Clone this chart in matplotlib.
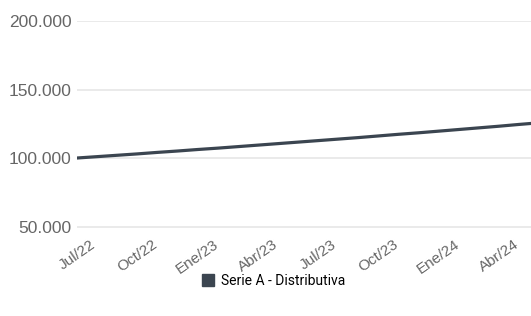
import matplotlib
matplotlib.use("Agg")
import matplotlib.pyplot as plt
import matplotlib.patches as mpatches
from matplotlib.ticker import FuncFormatter

# Data, monthly values (Jul/22 .. Jun/24)
months = ["Jul/22", "Ago/22", "Sep/22", "Oct/22", "Nov/22", "Dic/22",
          "Ene/23", "Feb/23", "Mar/23", "Abr/23", "May/23", "Jun/23",
          "Jul/23", "Ago/23", "Sep/23", "Oct/23", "Nov/23", "Dic/23",
          "Ene/24", "Feb/24", "Mar/24", "Abr/24", "May/24", "Jun/24"]
values = [100000, 101000, 102000, 103000, 104100, 105100,
          106200, 107200, 108300, 109400, 110500, 111600,
          112700, 113800, 114900, 116100, 117300, 118400,
          119600, 120800, 122000, 123200, 124500, 125700]
tick_labels = ["Jul/22", "Oct/22", "Ene/23", "Abr/23", "Jul/23", "Oct/23", "Ene/24", "Abr/24"]
series_name = "Serie A - Distributiva"

line_color = "#3b4550"
grid_color = "#e6e6e6"
label_color = "#666666"

fig = plt.figure(figsize=(5.31, 3.16), dpi=100)
ax = fig.add_axes([77/531, 1 - 232/316, 1 - 77/531, (232 - 21)/316])

x = list(range(len(months)))
ax.plot(x, values, color=line_color, lw=2.3, solid_capstyle="round", zorder=3)

ticks = [months.index(t) for t in tick_labels]
ax.set_xticks(ticks)
ax.set_xticklabels(tick_labels, rotation=35, ha="center", fontsize=11,
                   color=label_color, family="Liberation Sans")
ax.set_xlim(0, 22.6)

ax.set_ylim(46000, 200000)
ax.set_yticks([50000, 100000, 150000, 200000])
ax.yaxis.set_major_formatter(FuncFormatter(lambda v, p: f"{int(v):,}".replace(",", ".")))
for t in ax.get_yticklabels():
    t.set_fontsize(12.5)
    t.set_color(label_color)
    t.set_family("Liberation Sans")

ax.grid(axis="y", color=grid_color, lw=1.2)
ax.set_axisbelow(True)
ax.tick_params(length=0)
ax.tick_params(axis="y", pad=4)
ax.tick_params(axis="x", pad=4)
for s in ax.spines.values():
    s.set_visible(False)

handle = mpatches.Patch(color=line_color, label=series_name)
fig.legend(handles=[handle], loc="center", bbox_to_anchor=(0.515, 1 - 281/316),
           frameon=False, handlelength=0.9, handleheight=0.9, handletextpad=0.5,
           prop={"family": "Roboto", "size": 10})

fig.savefig("out.png", dpi=100)
